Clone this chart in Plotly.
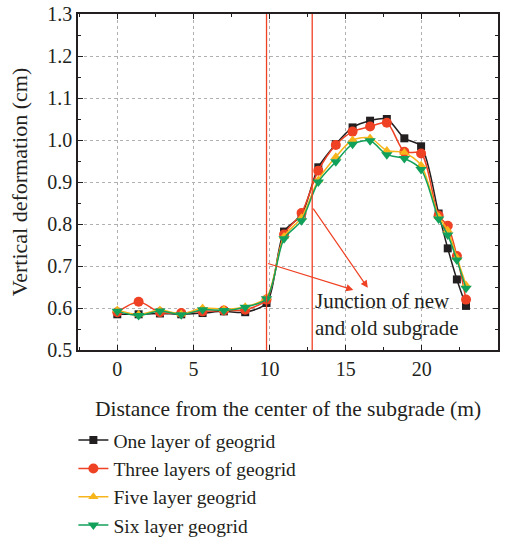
import plotly.graph_objects as go

# Distance from subgrade center (m)
distance = [0, 1.4, 2.8, 4.2, 5.6, 7.0, 8.4, 9.8, 10.95, 12.1, 13.2, 14.35,
            15.45, 16.6, 17.7, 18.85, 19.95, 21.1, 21.7, 22.3, 22.9]

one_layer = [0.585, 0.585, 0.587, 0.585, 0.588, 0.592, 0.590, 0.612, 0.782, 0.822,
             0.935, 0.990, 1.030, 1.046, 1.050, 1.004, 0.985, 0.825, 0.742, 0.668, 0.605]
three_layers = [0.590, 0.615, 0.590, 0.588, 0.592, 0.594, 0.596, 0.620, 0.775, 0.826,
                0.927, 0.988, 1.020, 1.032, 1.041, 0.972, 0.968, 0.820, 0.796, 0.724, 0.620]
five_layers = [0.595, 0.585, 0.595, 0.586, 0.600, 0.597, 0.603, 0.625, 0.770, 0.815,
               0.905, 0.960, 1.000, 1.005, 0.975, 0.970, 0.940, 0.818, 0.785, 0.720, 0.655]
six_layers = [0.592, 0.582, 0.593, 0.584, 0.596, 0.594, 0.602, 0.622, 0.765, 0.808,
              0.900, 0.948, 0.990, 0.998, 0.965, 0.956, 0.930, 0.812, 0.774, 0.714, 0.647]

series_names = ["One layer of geogrid", "Three layers of geogrid",
                "Five layer geogrid", "Six layer geogrid"]
series_values = [one_layer, three_layers, five_layers, six_layers]
colors = ["#231f20", "#ef4123", "#f7b51c", "#12a15a"]
symbols = ["square", "circle", "triangle-up", "triangle-down"]
msizes = [8, 10, 9, 10]

junctions = [9.8, 12.8]
annotation_text = "Junction of new<br>and old subgrade"

FONT = "Liberation Serif"
TXT = "#231f20"

fig = go.Figure()
for i, (name, vals) in enumerate(zip(series_names, series_values)):
    fig.add_trace(go.Scatter(
        x=distance, y=vals, name=name, mode="lines+markers",
        line=dict(color=colors[i], width=1.5, shape="spline", smoothing=0.8),
        marker=dict(symbol=symbols[i], size=msizes[i], color=colors[i]),
    ))

for jx in junctions:
    fig.add_shape(type="line", x0=jx, x1=jx, y0=0, y1=1, xref="x", yref="paper",
                  line=dict(color="#ef4123", width=1.3))

# arrows from junction lines to the text
fig.add_annotation(x=15.5, y=0.643, ax=junctions[0], ay=0.707, xref="x", yref="y",
                   axref="x", ayref="y", showarrow=True, arrowhead=2, arrowsize=1.2,
                   arrowwidth=1.2, arrowcolor="#ef4123", text="")
fig.add_annotation(x=16.45, y=0.648, ax=junctions[1], ay=0.840, xref="x", yref="y",
                   axref="x", ayref="y", showarrow=True, arrowhead=2, arrowsize=1.2,
                   arrowwidth=1.2, arrowcolor="#ef4123", text="")
fig.add_annotation(x=12.85, y=0.584, xref="x", yref="y", text=annotation_text,
                   showarrow=False, xanchor="left", yanchor="middle", align="left",
                   font=dict(family=FONT, size=21, color=TXT))

axis_common = dict(
    showline=True, linecolor="#231f20", linewidth=1.5, mirror="allticks",
    ticks="inside", ticklen=5, tickwidth=1.2, tickcolor="#231f20",
    showgrid=True, gridcolor="#b0b0b0", griddash="dot", gridwidth=1,
    zeroline=False, automargin=False,
    tickfont=dict(family=FONT, size=20, color=TXT),
)

fig.update_xaxes(range=[-2.58, 25], dtick=5, tick0=0,
                 minor=dict(ticks="inside", ticklen=3, dtick=2.5, tick0=0,
                            tickcolor="#231f20", showgrid=False),
                 title=dict(text="Distance from the center of the subgrade (m)",
                            font=dict(family=FONT, size=21.5, color=TXT), standoff=22),
                 **axis_common)
fig.update_yaxes(range=[0.5, 1.3], dtick=0.1, tick0=0.5, tickformat=".1f",
                 minor=dict(ticks="inside", ticklen=3, dtick=0.05, tick0=0.5,
                            tickcolor="#231f20", showgrid=False),
                 title=dict(text="Vertical deformation (cm)",
                            font=dict(family=FONT, size=22, color=TXT), standoff=14),
                 **axis_common)

fig.update_layout(
    width=507, height=542,
    margin=dict(l=78, r=9, t=14, b=192, autoexpand=False),
    plot_bgcolor="white", paper_bgcolor="white",
    font=dict(family=FONT, size=20, color=TXT),
    showlegend=True,
    legend=dict(x=-0.011, y=-0.211, xanchor="left", yanchor="top",
                font=dict(family=FONT, size=19.5, color=TXT),
                traceorder="normal",
                bgcolor="rgba(0,0,0,0)", itemwidth=30),
)

fig.write_html("out.html")
